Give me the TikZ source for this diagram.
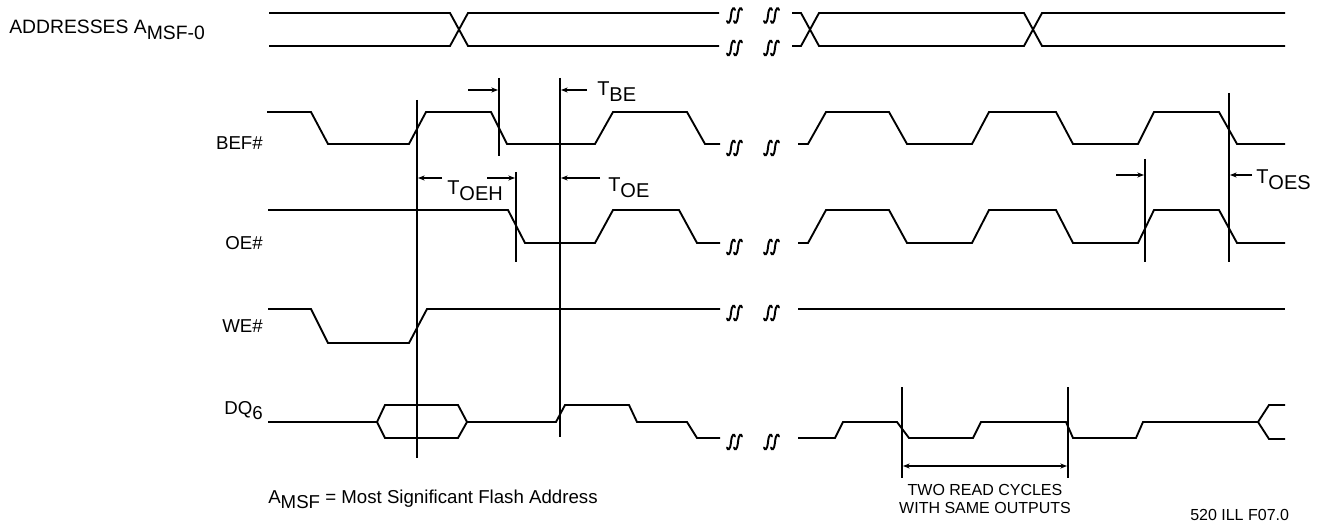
\documentclass[tikz,border=0pt]{standalone}
\usepackage{fontspec}
\setmainfont{Liberation Sans}
\usetikzlibrary{arrows.meta}
\newcommand{\lsub}[1]{\raisebox{-4.3pt}{#1}}
\newcommand{\brkpair}[2]{%
  \begin{scope}[shift={(#1,#2)}]
    \draw[brkline] (-7.5,5.5) .. controls (-6.7,8.5) and (-4.3,8.5) .. (-3.5,0)
                          .. controls (-2.7,-8.5) and (-0.3,-8.5) .. (0.5,-5.5);
    \draw[brkline] (-0.5,5.5) .. controls (0.3,8.5) and (2.7,8.5) .. (3.5,0)
                          .. controls (4.3,-8.5) and (6.7,-8.5) .. (7.5,-5.5);
  \end{scope}}
\begin{document}
\begin{tikzpicture}[x=0.75pt,y=-0.75pt,
  sig/.style={line width=1.4pt, line join=miter},
  vline/.style={line width=1.1pt},
  brkline/.style={line width=1.45pt, line cap=round},
  dimarr/.style={line width=0.9pt, -{Stealth[length=5pt,width=3.8pt]}},
  dimboth/.style={line width=0.9pt, {Stealth[length=5pt,width=3.8pt]}-{Stealth[length=5pt,width=3.8pt]}},
  lbl/.style={inner sep=0pt, font=\fontsize{14}{16}\selectfont},
  tlbl/.style={inner sep=0pt, font=\fontsize{15}{17}\selectfont},
  note/.style={inner sep=0pt, font=\fontsize{14}{16}\selectfont},
  small/.style={inner sep=0pt, font=\fontsize{12}{14}\selectfont}]
\fill[white] (0,0) rectangle (1325,524);
\useasboundingbox (0,0) rectangle (1325,524);

% ---------- labels ----------
\node[lbl, anchor=base west, font=\fontsize{14.5}{17}\selectfont] (addr) at (9,34) {ADDRESSES A\lsub{MSF-0}};
\node[lbl, anchor=base east] (bef) at (263,150) {BEF\#};
\node[lbl, anchor=base east] (oe) at (263,249) {OE\#};
\node[lbl, anchor=base east] (we) at (263,332) {WE\#};
\node[lbl, anchor=base east] (dq) at (263,414) {DQ\lsub{6}};

% ---------- addresses ----------
\draw[sig] (269,13) -- (450,13) -- (468,46) -- (719,46);
\draw[sig] (269,46) -- (450,46) -- (468,13) -- (719,13);
\draw[sig] (792,13) -- (801,13) -- (819,46) -- (1024,46) -- (1042,13) -- (1285,13);
\draw[sig] (792,46) -- (801,46) -- (819,13) -- (1024,13) -- (1042,46) -- (1285,46);
\brkpair{734.5}{15.5}
\brkpair{771.5}{15.5}
\brkpair{734.5}{48}
\brkpair{771.5}{48}

% ---------- BEF# ----------
\draw[sig] (267,112) -- (311,112) -- (328,144) -- (409,144) -- (426,112) -- (491,112) -- (507,144)
  -- (595,144) -- (613,112) -- (687,112) -- (705,144) -- (720,144);
\draw[sig] (798,144) -- (808,144) -- (826,112) -- (889,112) -- (907,144) -- (972,144) -- (989,112)
  -- (1056,112) -- (1073,144) -- (1138,144) -- (1154,112) -- (1219,112) -- (1237,144) -- (1285,144);
\brkpair{734.5}{148}
\brkpair{771.5}{148}

% ---------- OE# ----------
\draw[sig] (268,210) -- (508,210) -- (525,243) -- (595,243) -- (613,210) -- (679,210) -- (697,243) -- (720,243);
\draw[sig] (798,243) -- (808,243) -- (826,210) -- (889,210) -- (907,243) -- (972,243) -- (989,210)
  -- (1056,210) -- (1073,243) -- (1138,243) -- (1154,210) -- (1219,210) -- (1237,243) -- (1285,243);
\brkpair{734.5}{247}
\brkpair{771.5}{247}

% ---------- WE# ----------
\draw[sig] (268,309) -- (311,309) -- (328,343) -- (409,343) -- (427,309) -- (720,309);
\draw[sig] (798,309) -- (1285,309);
\brkpair{734.5}{313}
\brkpair{771.5}{313}

% ---------- DQ6 ----------
\draw[sig] (268,422) -- (377,422) -- (385,405) -- (458,405) -- (467,422) -- (556,422) -- (565,405)
  -- (629,405) -- (637,422) -- (687,422) -- (697,438) -- (720,438);
\draw[sig] (377,422) -- (385,438) -- (458,438) -- (467,422);
\draw[sig] (798,438) -- (835,438) -- (843,422) -- (897,422) -- (909,438) -- (973,438) -- (981,422)
  -- (1066,422) -- (1073,438) -- (1136,438) -- (1143,422) -- (1258,422) -- (1269,405) -- (1285,405);
\draw[sig] (1258,422) -- (1269,439) -- (1285,439);
\brkpair{734.5}{442}
\brkpair{771.5}{442}

% ---------- timing markers ----------
\draw[vline] (417,100) -- (417,458);
\draw[vline] (560,78) -- (560,437);
\draw[vline] (499,78) -- (499,156);
\draw[vline] (516,172) -- (516,262);
\draw[vline] (1145,159) -- (1145,262);
\draw[vline] (1229,93) -- (1229,262);
\draw[vline] (902,387) -- (902,478);
\draw[vline] (1068,387) -- (1068,478);

% ---------- dimension arrows ----------
\draw[dimarr] (468,90) -- (498,90);
\draw[dimarr] (587,90) -- (561,90);
\node[tlbl, anchor=base west] (tbe) at (597,96) {T\lsub{BE}};
\draw[dimarr] (442,178) -- (418,178);
\draw[dimarr] (487,178) -- (515,178);
\node[tlbl, anchor=base west] (toeh) at (447,195) {T\lsub{OEH}};
\draw[dimarr] (600,178) -- (561,178);
\node[tlbl, anchor=base west] (toe) at (608,192) {T\lsub{OE}};
\draw[dimarr] (1116,175) -- (1144,175);
\draw[dimarr] (1252,175) -- (1230,175);
\node[tlbl, anchor=base west] (toes) at (1256,184) {T\lsub{OES}};
\draw[dimboth] (903,466) -- (1067,466);

% ---------- notes ----------
\node[small, anchor=base] (two) at (985,495) {TWO READ CYCLES};
\node[small, anchor=base] (with) at (985,513) {WITH SAME OUTPUTS};
\node[note, anchor=base west] (fn) at (268,503) {A\lsub{MSF} = Most Significant Flash Address};
\node[small, anchor=base west] (ill) at (1190,520) {520 ILL F07.0};
\end{tikzpicture}
\end{document}
